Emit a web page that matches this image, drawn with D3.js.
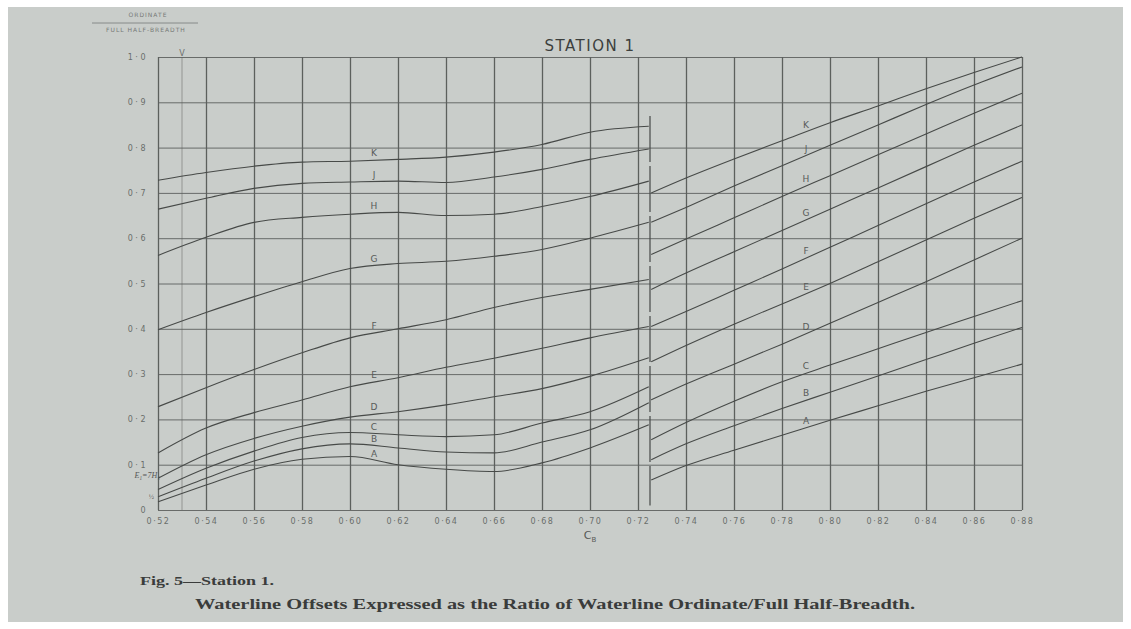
<!DOCTYPE html>
<html>
<head>
<meta charset="utf-8">
<script src="https://cdn.jsdelivr.net/npm/d3@7"></script>
<style>
  html, body { margin: 0; padding: 0; background: #ffffff; }
  svg { display: block; }
</style>
</head>
<body>
<svg id="chart" width="1131" height="629"></svg>
<script>
// curve letters, bottom to top
const curveNames = ["A", "B", "C", "D", "E", "F", "G", "H", "J", "K"];

// left family runs up to the break just past Cb = 0.72, right family starts after it
const xLeft = [0.52, 0.54, 0.56, 0.58, 0.60, 0.62, 0.64, 0.66, 0.68, 0.70, 0.7245];
const xRight = [0.7255, 0.74, 0.76, 0.78, 0.80, 0.82, 0.84, 0.86, 0.88];

const leftA = [0.018, 0.055, 0.090, 0.112, 0.118, 0.100, 0.090, 0.085, 0.104, 0.137, 0.188];
const leftB = [0.029, 0.070, 0.108, 0.135, 0.146, 0.137, 0.128, 0.126, 0.150, 0.177, 0.237];
const leftC = [0.045, 0.092, 0.130, 0.160, 0.171, 0.166, 0.162, 0.166, 0.192, 0.217, 0.272];
const leftD = [0.070, 0.122, 0.158, 0.185, 0.205, 0.217, 0.232, 0.250, 0.268, 0.295, 0.336];
const leftE = [0.126, 0.181, 0.215, 0.243, 0.272, 0.292, 0.315, 0.335, 0.357, 0.380, 0.405];
const leftF = [0.228, 0.270, 0.310, 0.347, 0.380, 0.400, 0.420, 0.447, 0.469, 0.487, 0.509];
const leftG = [0.398, 0.436, 0.471, 0.504, 0.533, 0.544, 0.549, 0.560, 0.575, 0.600, 0.635];
const leftH = [0.562, 0.602, 0.635, 0.646, 0.653, 0.657, 0.650, 0.653, 0.670, 0.692, 0.726];
const leftJ = [0.664, 0.688, 0.710, 0.721, 0.724, 0.726, 0.723, 0.735, 0.752, 0.774, 0.797];
const leftK = [0.728, 0.745, 0.759, 0.768, 0.770, 0.774, 0.779, 0.790, 0.807, 0.834, 0.847];

const rightA = [0.066, 0.098, 0.132, 0.165, 0.198, 0.230, 0.262, 0.292, 0.322];
const rightB = [0.111, 0.146, 0.186, 0.224, 0.260, 0.296, 0.332, 0.368, 0.403];
const rightC = [0.155, 0.193, 0.240, 0.283, 0.320, 0.356, 0.392, 0.427, 0.462];
const rightD = [0.243, 0.278, 0.322, 0.366, 0.412, 0.458, 0.504, 0.552, 0.600];
const rightE = [0.327, 0.363, 0.410, 0.455, 0.500, 0.548, 0.596, 0.644, 0.690];
const rightF = [0.405, 0.438, 0.485, 0.532, 0.580, 0.628, 0.676, 0.724, 0.770];
const rightG = [0.487, 0.523, 0.570, 0.617, 0.664, 0.711, 0.758, 0.805, 0.850];
const rightH = [0.564, 0.598, 0.645, 0.692, 0.738, 0.784, 0.830, 0.876, 0.920];
const rightJ = [0.635, 0.668, 0.715, 0.760, 0.805, 0.850, 0.895, 0.938, 0.978];
const rightK = [0.700, 0.733, 0.775, 0.815, 0.855, 0.892, 0.930, 0.966, 1.000];

const xTicks = [0.52, 0.54, 0.56, 0.58, 0.60, 0.62, 0.64, 0.66, 0.68, 0.70,
                0.72, 0.74, 0.76, 0.78, 0.80, 0.82, 0.84, 0.86, 0.88];
const xTickLabels = ["0·52", "0·54", "0·56", "0·58", "0·60", "0·62", "0·64", "0·66", "0·68", "0·70",
                     "0·72", "0·74", "0·76", "0·78", "0·80", "0·82", "0·84", "0·86", "0·88"];
const yTicks = [0, 0.1, 0.2, 0.3, 0.4, 0.5, 0.6, 0.7, 0.8, 0.9, 1.0];
const yTickLabels = ["0", "0·1", "0·2", "0·3", "0·4", "0·5", "0·6", "0·7", "0·8", "0·9", "1·0"];

const leftValues = [leftA, leftB, leftC, leftD, leftE, leftF, leftG, leftH, leftJ, leftK];
const rightValues = [rightA, rightB, rightC, rightD, rightE, rightF, rightG, rightH, rightJ, rightK];

const curves = curveNames.map((name, i) => ({
  name,
  left: xLeft.map((x, j) => ({ x, y: leftValues[i][j] })),
  right: xRight.map((x, j) => ({ x, y: rightValues[i][j] })),
}));

const W = 1131, H = 629;
const margin = { top: 57, right: 109, bottom: 119, left: 158 };
const plotW = W - margin.left - margin.right;
const plotH = H - margin.top - margin.bottom;

const paper = "#c9cdca";
const ink = "#474a48";
const gridInk = "#5c605d";

const svg = d3.select("#chart");

svg.append("rect")
  .attr("x", 8).attr("y", 7)
  .attr("width", W - 16).attr("height", H - 14)
  .attr("fill", paper);

const g = svg.append("g")
  .attr("transform", `translate(${margin.left},${margin.top})`);

const xScale = d3.scaleLinear().domain([0.52, 0.88]).range([0, plotW]);
const yScale = d3.scaleLinear().domain([0, 1]).range([plotH, 0]);

// grid + tick labels through the axes
const xAxis = d3.axisBottom(xScale)
  .tickValues(xTicks)
  .tickSize(-plotH)
  .tickPadding(8)
  .tickFormat((d, i) => xTickLabels[i]);

const xg = g.append("g")
  .attr("transform", `translate(0,${plotH})`)
  .call(xAxis);
xg.select(".domain").remove();
xg.selectAll("line").attr("stroke", gridInk).attr("stroke-width", 1.3);
xg.selectAll("text")
  .attr("fill", "#6a6d6b")
  .style("font-family", "DejaVu Sans")
  .style("font-size", "8px")
  .style("letter-spacing", "1.5px");

const yAxis = d3.axisLeft(yScale)
  .tickValues(yTicks)
  .tickSize(-plotW)
  .tickPadding(10)
  .tickFormat((d, i) => yTickLabels[i]);

const yg = g.append("g").call(yAxis);
yg.select(".domain").remove();
yg.selectAll("line").attr("stroke", gridInk).attr("stroke-width", 0.9);
yg.selectAll("text")
  .attr("fill", "#6a6d6b")
  .style("font-family", "DejaVu Sans")
  .style("font-size", "8px")
  .style("letter-spacing", "2.5px");

// faint extra rule at Cb = 0.53 with its V mark
g.append("line")
  .attr("x1", xScale(0.53)).attr("x2", xScale(0.53))
  .attr("y1", yScale(1)).attr("y2", yScale(0))
  .attr("stroke", gridInk).attr("stroke-width", 0.7)
  .attr("opacity", 0.7);
g.append("text")
  .attr("x", xScale(0.53)).attr("y", yScale(1) - 1)
  .attr("text-anchor", "middle")
  .attr("fill", "#6a6d6b")
  .style("font-family", "DejaVu Sans")
  .style("font-size", "8px")
  .text("V");

// break line between the two families
g.append("line")
  .attr("x1", xScale(0.725)).attr("x2", xScale(0.725))
  .attr("y1", yScale(0.87)).attr("y2", yScale(0.01))
  .attr("stroke", ink).attr("stroke-width", 1.2)
  .attr("stroke-dasharray", "46,4");

const line = d3.line()
  .x((d) => xScale(d.x))
  .y((d) => yScale(d.y))
  .curve(d3.curveMonotoneX);

const curveG = g.append("g");
curves.forEach((c) => {
  curveG.append("path")
    .datum(c.left)
    .attr("fill", "none")
    .attr("stroke", ink)
    .attr("stroke-width", 1.1)
    .attr("d", line);
  curveG.append("path")
    .datum(c.right)
    .attr("fill", "none")
    .attr("stroke", ink)
    .attr("stroke-width", 1.1)
    .attr("d", line);
});

// letter labels sit just above each curve
const labelStyle = (sel) => sel
  .attr("text-anchor", "middle")
  .attr("fill", "#585b59")
  .style("font-family", "DejaVu Sans")
  .style("font-size", "9px");

curves.forEach((c) => {
  const atLeft = d3.scaleLinear().domain(xLeft).range(c.left.map((d) => d.y))(0.61);
  const atRight = d3.scaleLinear().domain(xRight).range(c.right.map((d) => d.y))(0.79);
  g.append("text")
    .attr("x", xScale(0.61))
    .attr("y", yScale(atLeft) - 4)
    .call(labelStyle)
    .text(c.name);
  g.append("text")
    .attr("x", xScale(0.79))
    .attr("y", yScale(atRight) - 4)
    .call(labelStyle)
    .text(c.name);
});

// small note at the foot of the ordinate scale
g.append("text")
  .attr("x", 2).attr("y", yScale(0.07))
  .attr("text-anchor", "end")
  .attr("fill", "#555")
  .style("font-family", "Liberation Serif")
  .style("font-style", "italic")
  .style("font-size", "8px")
  .text("E\u2081=7H\u2081");
g.append("text")
  .attr("x", -4).attr("y", yScale(0.025))
  .attr("text-anchor", "end")
  .attr("fill", "#555")
  .style("font-family", "Liberation Serif")
  .style("font-size", "7px")
  .text("\u00bd");

// title and axis captions
svg.append("text")
  .attr("x", margin.left + xScale(0.70))
  .attr("y", 51)
  .attr("text-anchor", "middle")
  .attr("fill", "#3c3f3d")
  .style("font-family", "DejaVu Sans")
  .style("font-size", "15px")
  .style("letter-spacing", "1.5px")
  .text("STATION 1");

const cb = svg.append("text")
  .attr("x", margin.left + xScale(0.70))
  .attr("y", 539)
  .attr("text-anchor", "middle")
  .attr("fill", "#555856")
  .style("font-family", "DejaVu Sans")
  .style("font-size", "11px");
cb.append("tspan").text("C");
cb.append("tspan").attr("dy", 3).style("font-size", "7px").text("B");

svg.append("text")
  .attr("x", 148).attr("y", 17)
  .attr("text-anchor", "middle")
  .attr("fill", "#777a78")
  .style("font-family", "DejaVu Sans")
  .style("font-size", "6px")
  .style("letter-spacing", "1px")
  .text("ORDINATE");
svg.append("line")
  .attr("x1", 92).attr("x2", 198)
  .attr("y1", 23).attr("y2", 23)
  .attr("stroke", "#777a78").attr("stroke-width", 0.8);
svg.append("text")
  .attr("x", 146).attr("y", 32)
  .attr("text-anchor", "middle")
  .attr("fill", "#777a78")
  .style("font-family", "DejaVu Sans")
  .style("font-size", "6px")
  .style("letter-spacing", "1px")
  .text("FULL HALF-BREADTH");

// figure caption
svg.append("text")
  .attr("x", 140).attr("y", 585)
  .attr("fill", "#3a3c3b")
  .style("font-family", "Liberation Serif")
  .style("font-weight", "bold")
  .style("font-size", "13px")
  .attr("textLength", 134)
  .attr("lengthAdjust", "spacingAndGlyphs")
  .text("Fig. 5\u2014Station 1.");
svg.append("text")
  .attr("x", 195).attr("y", 609)
  .attr("fill", "#3a3c3b")
  .style("font-family", "Liberation Serif")
  .style("font-weight", "bold")
  .style("font-size", "15px")
  .attr("textLength", 720)
  .attr("lengthAdjust", "spacingAndGlyphs")
  .text("Waterline Offsets Expressed as the Ratio of Waterline Ordinate/Full Half-Breadth.");
</script>
</body>
</html>
